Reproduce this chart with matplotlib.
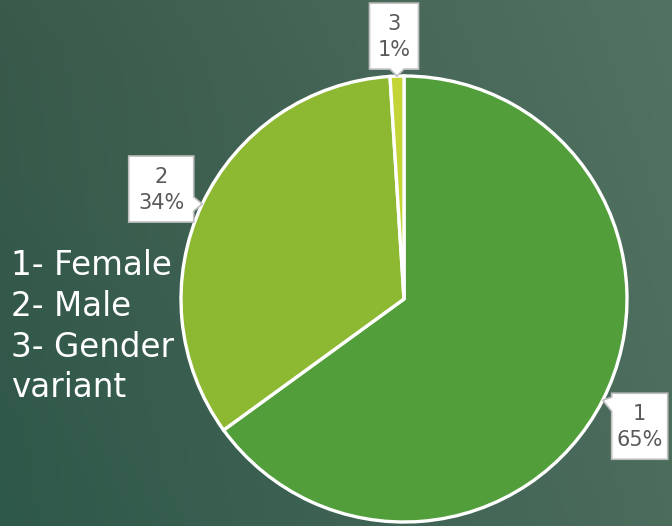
import numpy as np
import matplotlib.pyplot as plt
from matplotlib.patches import Polygon

# Données du graphique
categories = ["1", "2", "3"]
shares = [65, 34, 1]
pct_labels = ["65%", "34%", "1%"]
legend_lines = ["1- Female", "2- Male", "3- Gender", "variant"]

slice_colors = ["#529E3A", "#8DB832", "#C3D437"]

W, H = 672, 526
fig = plt.figure(figsize=(W / 100, H / 100), dpi=100)
ax = fig.add_axes([0, 0, 1, 1])

# Fond en dégradé (coins estimés)
tl = np.array([0x3A, 0x5A, 0x4B]) / 255
tr = np.array([0x52, 0x72, 0x62]) / 255
bl = np.array([0x2E, 0x58, 0x4A]) / 255
br = np.array([0x4C, 0x6C, 0x5C]) / 255
u = np.linspace(0, 1, 200)[None, :, None]
v = np.linspace(0, 1, 160)[:, None, None]
grad = (1 - v) * ((1 - u) * tl + u * tr) + v * ((1 - u) * bl + u * br)
ax.imshow(grad, extent=[0, W, 0, H], origin="upper", aspect="auto", zorder=0)

# Camembert
cx, cy, R = 404, 227, 223
wedges, _ = ax.pie(shares, colors=slice_colors, startangle=90, counterclock=False,
                   radius=R, center=(cx, cy), frame=True,
                   wedgeprops=dict(edgecolor="white", linewidth=2.4))
for w in wedges:
    w.set_zorder(2)


def callout(tip, box_c, bw, bh, text):
    x0, x1 = box_c[0] - bw / 2, box_c[0] + bw / 2
    y0, y1 = box_c[1] - bh / 2, box_c[1] + bh / 2
    half = 7
    if tip[0] < x0:
        b = np.clip(tip[1], y0 + half + 4, y1 - half - 4)
        pts = [(x0, y0), (x1, y0), (x1, y1), (x0, y1), (x0, b + half), tip, (x0, b - half)]
    elif tip[0] > x1:
        b = np.clip(tip[1], y0 + half + 4, y1 - half - 4)
        pts = [(x0, y0), (x1, y0), (x1, b - half), tip, (x1, b + half), (x1, y1), (x0, y1)]
    else:
        b = np.clip(tip[0], x0 + half + 4, x1 - half - 4)
        pts = [(x0, y0), (b - half, y0), tip, (b + half, y0), (x1, y0), (x1, y1), (x0, y1)]
    ax.add_patch(Polygon(pts, closed=True, facecolor="white", edgecolor="#BFBFBF",
                         linewidth=1.2, zorder=3))
    ax.text(box_c[0], box_c[1] - 1, text, ha="center", va="center", fontsize=15,
            color="#595959", family="DejaVu Sans", linespacing=1.4, zorder=4)


# Étiquettes : pointe sur le bord de la part, boîte décalée
box_offsets = [(37, -26), (-41, 15), (-3, 40)]
box_widths = [56, 65, 49]
for i, wdg in enumerate(wedges):
    mid = np.deg2rad((wdg.theta1 + wdg.theta2) / 2)
    tip = (cx + R * np.cos(mid), cy + R * np.sin(mid))
    bc = (tip[0] + box_offsets[i][0], tip[1] + box_offsets[i][1])
    callout(tip, bc, box_widths[i], 66, f"{categories[i]}\n{pct_labels[i]}")

# Légende texte à gauche
ax.text(11, H - 249, "\n".join(legend_lines), ha="left", va="top", fontsize=23.5,
        color="white", family="DejaVu Sans", linespacing=1.3, zorder=4)

ax.set_xlim(0, W)
ax.set_ylim(0, H)
ax.set_aspect("auto")
ax.axis("off")

fig.savefig("out.png", dpi=100)
